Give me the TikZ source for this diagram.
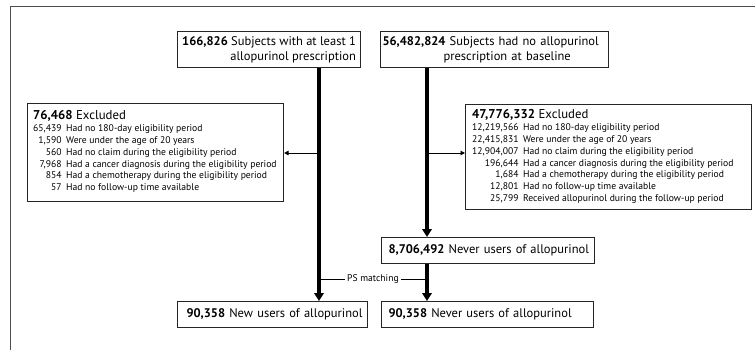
\documentclass[tikz,border=0pt]{standalone}
\usepackage{fontspec}
\setmainfont{PT Sans}
\usetikzlibrary{arrows.meta}
\begin{document}
\begin{tikzpicture}[x=1pt,y=-1pt,
  box/.style={draw=black!85, line width=1.1pt, rectangle, inner sep=0pt, anchor=north west},
  big/.style={font=\fontsize{12.5}{15}\selectfont},
  small/.style={font=\fontsize{9.65}{11.8}\selectfont},
  flow/.style={line width=3.5pt, -{Triangle[length=8pt,width=9.5pt]}},
  side/.style={line width=0.9pt, -{Triangle[length=4.5pt,width=4.5pt]}},
  frame/.style={draw=black!70, line width=1.2pt}]
\useasboundingbox (0,0) rectangle (755,350);
\draw[frame] (755,6.5) -- (10.5,6.5) -- (10.5,350);
% main boxes
\node[box, big, minimum width=183, minimum height=36, align=right] (a) at (177,31)
  {\textbf{166,826} Subjects with at least 1\\allopurinol prescription};
\node[box, big, minimum width=228, minimum height=36, text width=224, inner xsep=2, align=left] (b) at (380,31)
  {\mbox{\textbf{56,482,824} Subjects had no allopurinol}\\\hspace*{61pt}prescription at baseline};
% excluded boxes
\node[box, minimum width=256, minimum height=98] (c) at (27,103) {};
\node[small, anchor=base west, inner sep=0pt] (ct) at (33,120) {%
  \begin{tabular}[t]{@{}r@{\hspace{4.5pt}}l@{}}
  \multicolumn{2}{@{}l}{\fontsize{12.8}{15}\selectfont\textbf{76,468} Excluded}\\
  65,439 & Had no 180-day eligibility period\\
  1,590 & Were under the age of 20 years\\
  560 & Had no claim during the eligibility period\\
  7,968 & Had a cancer diagnosis during the eligibility period\\
  854 & Had a chemotherapy during the eligibility period\\
  57 & Had no follow-up time available
  \end{tabular}};
\node[box, minimum width=286, minimum height=105] (d) at (465,104) {};
\node[small, anchor=base west, inner sep=0pt] (dt) at (472,119) {%
  \begin{tabular}[t]{@{}r@{\hspace{4.5pt}}l@{}}
  \multicolumn{2}{@{}l}{\fontsize{12.8}{15}\selectfont\textbf{47,776,332} Excluded}\\
  12,219,566 & Had no 180-day eligibility period\\
  22,415,831 & Were under the age of 20 years\\
  12,904,007 & Had no claim during the eligibility period\\
  196,644 & Had a cancer diagnosis during the eligibility period\\
  1,684 & Had a chemotherapy during the eligibility period\\
  12,801 & Had no follow-up time available\\
  25,799 & Received allopurinol during the follow-up period
  \end{tabular}};
% result boxes
\node[box, big, minimum height=26, inner xsep=9, text width=172, align=left] (e) at (177,301)
  {\mbox{\textbf{90,358} New users of allopurinol}};
\node[box, big, minimum height=26, inner xsep=7, text width=199, align=left] (f) at (381,237)
  {\mbox{\textbf{8,706,492} Never users of allopurinol}};
\node[box, big, minimum height=26, inner xsep=7, text width=198, align=left] (g) at (381,301)
  {\mbox{\textbf{90,358} Never users of allopurinol}};
% connectors
\coordinate (lx) at (319,0);
\coordinate (rx) at (427,0);
\coordinate (ey) at (0,153);
\coordinate (py) at (0,279.5);
\draw[flow] (a.south -| lx) -- (e.north -| lx);
\draw[flow] (b.south -| rx) -- (f.north -| rx);
\draw[flow] (f.south -| rx) -- (g.north -| rx);
\draw[side] (ey -| lx) -- (ey -| c.east);
\draw[side] (ey -| rx) -- (ey -| d.west);
\draw[line width=0.9pt] (py -| lx) -- (py -| rx)
  node[midway, fill=white, inner xsep=2pt, inner ysep=1pt, small] (ps) {PS matching};
\end{tikzpicture}
\end{document}
